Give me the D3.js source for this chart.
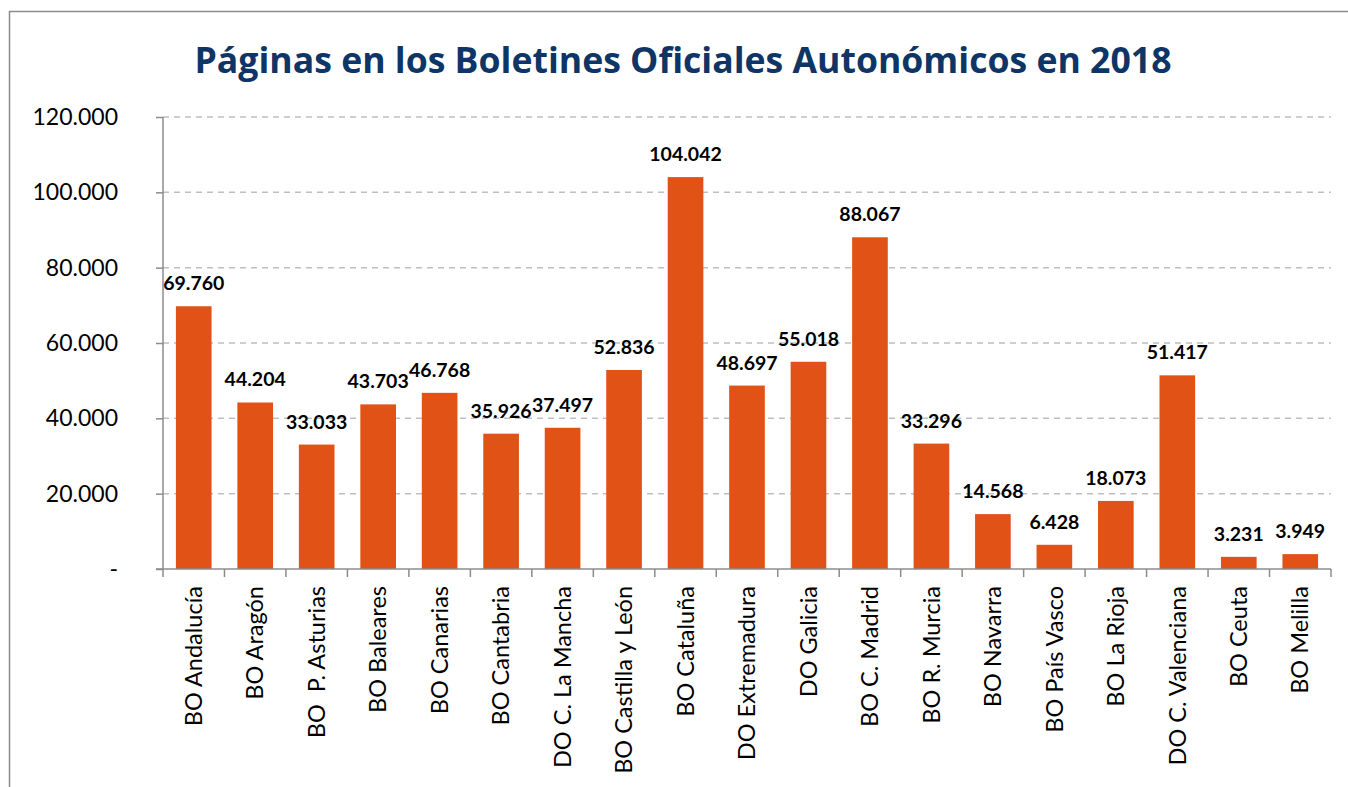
<!DOCTYPE html>
<html><head><meta charset="utf-8">
<script src="https://cdn.jsdelivr.net/npm/d3@7"></script>
<style>body{margin:0;background:#fff}svg{display:block}</style>
</head><body>
<script>
const categories = ["BO Andalucía","BO Aragón","BO  P. Asturias","BO Baleares","BO Canarias","BO Cantabria","DO C. La Mancha","BO Castilla y León","BO Cataluña","DO Extremadura","DO Galicia","BO C. Madrid","BO R. Murcia","BO Navarra","BO País Vasco","BO La Rioja","DO C. Valenciana","BO Ceuta","BO Melilla"];
const values = [69760,44204,33033,43703,46768,35926,37497,52836,104042,48697,55018,88067,33296,14568,6428,18073,51417,3231,3949];
const yTicks = [0,20000,40000,60000,80000,100000,120000];
const title = "Páginas en los Boletines Oficiales Autonómicos en 2018";

const W = 1348, H = 787;
const svg = d3.select("body").append("svg").attr("width", W).attr("height", H);
svg.append("rect").attr("x",9.5).attr("y",11.5).attr("width",1360).attr("height",800)
  .attr("fill","none").attr("stroke","#8c8c8c").attr("stroke-width",1.5);

const font = "Lato, 'Open Sans', sans-serif";
svg.append("text").attr("x",683).attr("y",73).attr("text-anchor","middle")
  .attr("font-family","'Open Sans', sans-serif").attr("font-weight","bold").attr("font-size",35.5)
  .attr("textLength",977).attr("lengthAdjust","spacingAndGlyphs")
  .attr("fill","#0e3565").text(title);

const x = d3.scaleBand().domain(categories).range([163,1331]).paddingInner(0.42).paddingOuter(0.21);
const y = d3.scaleLinear().domain([0,120000]).range([569,117]);
const fmt = v => v === 0 ? "-" : d3.format(",")(v).replace(/,/g,".");

// grid
svg.append("g").selectAll("line").data(yTicks.filter(d=>d>0)).join("line")
  .attr("x1",163).attr("x2",1331).attr("y1",d=>y(d)).attr("y2",d=>y(d))
  .attr("stroke","#bfbfbf").attr("stroke-width",1.5).attr("stroke-dasharray","6,5");

// bars
svg.append("g").selectAll("rect").data(values).join("rect")
  .attr("x",(d,i)=>x(categories[i])).attr("width",x.bandwidth())
  .attr("y",d=>y(d)).attr("height",d=>y(0)-y(d)).attr("fill","#e05216");

// y axis
const ya = svg.append("g").attr("transform","translate(163,0)")
  .call(d3.axisLeft(y).tickValues(yTicks).tickFormat(fmt).tickSize(7).tickPadding(38));
ya.select(".domain").attr("stroke","#8c8c8c").attr("stroke-width",1.5).attr("d","M0,117V569");
ya.selectAll(".tick line").attr("stroke","#8c8c8c").attr("stroke-width",1.5);
ya.selectAll(".tick text").attr("font-family",font).attr("font-size",23).attr("fill","#000");

// x axis
const xa = svg.append("g");
xa.append("line").attr("x1",156).attr("x2",1331).attr("y1",569).attr("y2",569).attr("stroke","#8c8c8c").attr("stroke-width",1.5);
xa.selectAll(".tk").data(d3.range(categories.length+1)).join("line").attr("class","tk")
  .attr("x1",i=>163+i*(1168/categories.length)).attr("x2",i=>163+i*(1168/categories.length))
  .attr("y1",569).attr("y2",577).attr("stroke","#8c8c8c").attr("stroke-width",1.5);
xa.selectAll("text").data(categories).join("text")
  .attr("transform",d=>`translate(${x(d)+x.bandwidth()/2},586) rotate(-90)`)
  .attr("dy","0.35em")
  .attr("text-anchor","end").attr("font-family",font).attr("font-size",23.5).attr("fill","#000")
  .attr("xml:space","preserve").style("white-space","pre").text(d=>d);

// data labels
svg.append("g").selectAll("text").data(values).join("text")
  .attr("x",(d,i)=>x(categories[i])+x.bandwidth()/2).attr("y",d=>y(d)-16)
  .attr("text-anchor","middle").attr("font-family",font).attr("font-weight","bold")
  .attr("font-size",19.5).attr("fill","#000").text(fmt);
</script>
</body></html>
